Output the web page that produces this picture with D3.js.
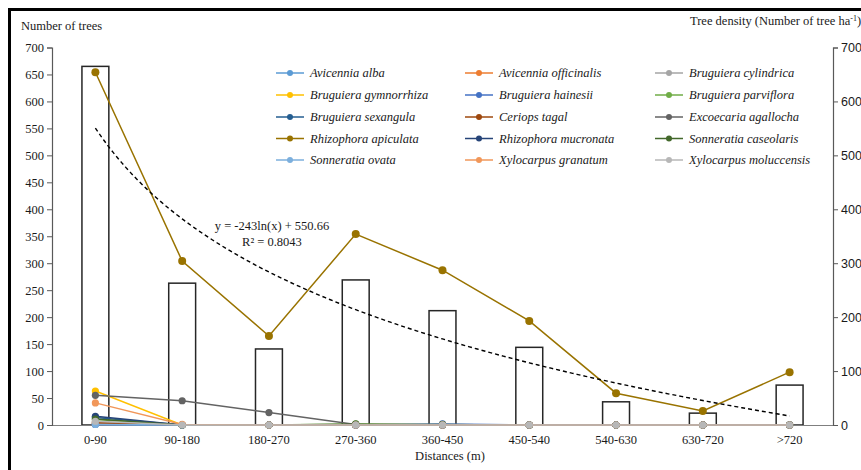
<!DOCTYPE html>
<html>
<head>
<meta charset="utf-8">
<script src="https://cdn.jsdelivr.net/npm/d3@7"></script>
<style>
  html, body { margin: 0; padding: 0; background: #fff; }
  svg { display: block; }
  text { font-family: "Liberation Serif", "Times New Roman", serif; fill: #1a1a1a; }
</style>
</head>
<body>
<svg id="chart" width="861" height="470"></svg>
<script>
// Distance classes from the shoreline (m)
const categories = ["0-90", "90-180", "180-270", "270-360", "360-450", "450-540", "540-630", "630-720", ">720"];

// Tree density per distance class (Number of tree ha-1), drawn as open bars
const density = [665, 263, 141, 269, 212, 144, 43, 22, 74];

// Number of trees of each species per distance class
const speciesNames = [
  "Avicennia alba", "Avicennia officinalis", "Bruguiera cylindrica",
  "Bruguiera gymnorrhiza", "Bruguiera hainesii", "Bruguiera parviflora",
  "Bruguiera sexangula", "Ceriops tagal", "Excoecaria agallocha",
  "Rhizophora apiculata", "Rhizophora mucronata", "Sonneratia caseolaris",
  "Sonneratia ovata", "Xylocarpus granatum", "Xylocarpus moluccensis"
];
const speciesColors = [
  "#5B9BD5", "#ED7D31", "#A5A5A5",
  "#FFC000", "#4472C4", "#70AD47",
  "#255E91", "#9E480E", "#636363",
  "#997300", "#264478", "#43682B",
  "#7CAFDD", "#F1975A", "#B7B7B7"
];
const avicenniaAlba        = [2, 0, 0, 0, 0, 0, 0, 0, 0];
const avicenniaOfficinalis = [3, 0, 0, 0, 0, 0, 0, 0, 0];
const bruguieraCylindrica  = [6, 0, 0, 0, 0, 0, 0, 0, 0];
const bruguieraGymnorrhiza = [63, 0, 0, 0, 0, 0, 0, 0, 0];
const bruguieraHainesii    = [1, 0, 0, 0, 2, 0, 0, 0, 0];
const bruguieraParviflora  = [10, 0, 0, 2, 0, 0, 0, 0, 0];
const bruguieraSexangula   = [14, 0, 0, 0, 0, 0, 0, 0, 0];
const ceriopsTagal         = [4, 0, 0, 0, 0, 0, 0, 0, 0];
const excoecariaAgallocha  = [55, 45, 23, 1, 0, 0, 0, 0, 0];
const rhizophoraApiculata  = [654, 304, 165, 354, 287, 193, 59, 26, 98];
const rhizophoraMucronata  = [16, 0, 0, 0, 0, 0, 0, 0, 0];
const sonneratiaCaseolaris = [11, 0, 0, 1.5, 1, 0, 0, 0, 0];
const sonneratiaOvata      = [1, 0, 0, 0, 0, 0, 0, 0, 0];
const xylocarpusGranatum   = [41, 1, 0, 0, 0, 0, 0, 0, 0];
const xylocarpusMoluccensis = [7, 0, 0, 0, 0, 0, 0, 0, 0];

const speciesValues = [
  avicenniaAlba, avicenniaOfficinalis, bruguieraCylindrica,
  bruguieraGymnorrhiza, bruguieraHainesii, bruguieraParviflora,
  bruguieraSexangula, ceriopsTagal, excoecariaAgallocha,
  rhizophoraApiculata, rhizophoraMucronata, sonneratiaCaseolaris,
  sonneratiaOvata, xylocarpusGranatum, xylocarpusMoluccensis
];

// Logarithmic trend of tree density: y = a ln(x) + b
const trendCoef = { a: -243, b: 550.66 };
const trendLabel = ["y = -243ln(x) + 550.66", "R² = 0.8043"];

const leftTicks = d3.range(0, 701, 50);
const rightTicks = d3.range(0, 701, 100);

const svg = d3.select("#chart");
const W = 861, H = 470;
const plot = { left: 52, right: 833, top: 47.5, bottom: 425 };

svg.append("rect").attr("width", W).attr("height", H).attr("fill", "#fff");

const x = d3.scaleBand()
  .domain(categories)
  .range([plot.left, plot.right])
  .paddingInner(0.69)
  .paddingOuter(0.345);
const cx = c => x(c) + x.bandwidth() / 2;

const yLeft = d3.scaleLinear().domain([0, 700]).range([plot.bottom, plot.top]);
const yRight = d3.scaleLinear().domain([0, 700]).range([plot.bottom, plot.top]);

// Density bars
svg.append("g").selectAll("rect")
  .data(categories.map((c, i) => ({ c, v: density[i] })))
  .join("rect")
  .attr("x", d => x(d.c))
  .attr("y", d => yRight(d.v))
  .attr("width", x.bandwidth())
  .attr("height", d => yRight(0) - yRight(d.v))
  .attr("fill", "#fff")
  .attr("stroke", "#262626")
  .attr("stroke-width", 1.5);

// Category axis (baseline only, labels below)
const xAxis = svg.append("g").attr("transform", `translate(0,${plot.bottom})`)
  .call(d3.axisBottom(x).tickSize(0).tickPadding(0));
xAxis.select(".domain").attr("stroke", "#7f7f7f").attr("stroke-width", 1.2)
  .attr("d", `M${plot.left},0.5H${plot.right}`);
xAxis.selectAll("text")
  .attr("y", 19).attr("dy", null)
  .style("font-size", "12.5px").style("font-family", "Liberation Serif, serif")
  .attr("fill", "#1a1a1a");

// Left axis: number of trees
const gl = svg.append("g").attr("transform", `translate(${plot.left},0)`)
  .call(d3.axisLeft(yLeft).tickValues(leftTicks).tickSize(5).tickPadding(3));
gl.select(".domain").attr("stroke", "#595959").attr("stroke-width", 1.2);
gl.selectAll(".tick line").attr("stroke", "#595959");
gl.selectAll("text").style("font-size", "12.5px")
  .style("font-family", "Liberation Serif, serif").attr("fill", "#1a1a1a");

// Right axis: tree density
const gr = svg.append("g").attr("transform", `translate(${plot.right},0)`)
  .call(d3.axisRight(yRight).tickValues(rightTicks).tickSize(5).tickPadding(3));
gr.select(".domain").attr("stroke", "#595959").attr("stroke-width", 1.2);
gr.selectAll(".tick line").attr("stroke", "#595959");
gr.selectAll("text").style("font-size", "12.5px")
  .style("font-family", "Liberation Sans, Arial, sans-serif").attr("fill", "#1a1a1a");

// Species lines with markers
const line = d3.line().x(d => cx(d.c)).y(d => yLeft(d.v));
speciesNames.forEach((name, s) => {
  const pts = categories.map((c, i) => ({ c, v: speciesValues[s][i] }));
  const g = svg.append("g");
  g.append("path").datum(pts)
    .attr("d", line)
    .attr("fill", "none")
    .attr("stroke", speciesColors[s])
    .attr("stroke-width", 1.5);
  g.selectAll("circle").data(pts).join("circle")
    .attr("cx", d => cx(d.c))
    .attr("cy", d => yLeft(d.v))
    .attr("r", name === "Rhizophora apiculata" ? 4 : 3.6)
    .attr("fill", speciesColors[s]);
});

// Logarithmic trend line for density
const step = x.step();
const trendPts = d3.range(1, 9.001, 0.05).map(t => ({
  px: cx(categories[0]) + (t - 1) * step,
  v: trendCoef.a * Math.log(t) + trendCoef.b
}));
svg.append("path").datum(trendPts)
  .attr("d", d3.line().x(d => d.px).y(d => yRight(d.v)))
  .attr("fill", "none")
  .attr("stroke", "#000")
  .attr("stroke-width", 1.4)
  .attr("stroke-dasharray", "4,3");

svg.append("text").attr("x", 272).attr("y", 230).attr("text-anchor", "middle")
  .style("font-size", "12.5px").text(trendLabel[0]);
svg.append("text").attr("x", 272).attr("y", 246).attr("text-anchor", "middle")
  .style("font-size", "12.5px").text(trendLabel[1]);

// Legend: 3 columns x 5 rows
const legCols = [276, 465, 655];
const legRows = [73, 95, 117, 138.5, 160];
const leg = svg.append("g");
speciesNames.forEach((name, s) => {
  const lx = legCols[s % 3], ly = legRows[Math.floor(s / 3)];
  leg.append("line").attr("x1", lx).attr("x2", lx + 28).attr("y1", ly).attr("y2", ly)
    .attr("stroke", speciesColors[s]).attr("stroke-width", 1.5);
  leg.append("circle").attr("cx", lx + 14).attr("cy", ly).attr("r", 3)
    .attr("fill", speciesColors[s]);
  leg.append("text").attr("x", lx + 34).attr("y", ly + 4)
    .style("font-size", "12.5px").style("font-style", "italic").text(name);
});

// Axis titles
svg.append("text").attr("x", 21).attr("y", 30).style("font-size", "12.5px")
  .text("Number of trees");
const rt = svg.append("text").attr("x", 690).attr("y", 25).style("font-size", "12.5px");
rt.append("tspan").text("Tree density (Number of tree ha");
rt.append("tspan").attr("dy", -4).style("font-size", "8px").text("-1");
rt.append("tspan").attr("dy", 4).text(")");
svg.append("text").attr("x", 450).attr("y", 460).attr("text-anchor", "middle")
  .style("font-size", "12.5px").text("Distances (m)");

// Outer frame
svg.append("rect").attr("x", 9.5).attr("y", 9.5).attr("width", 900).attr("height", 500)
  .attr("fill", "none").attr("stroke", "#000").attr("stroke-width", 3);
</script>
</body>
</html>
